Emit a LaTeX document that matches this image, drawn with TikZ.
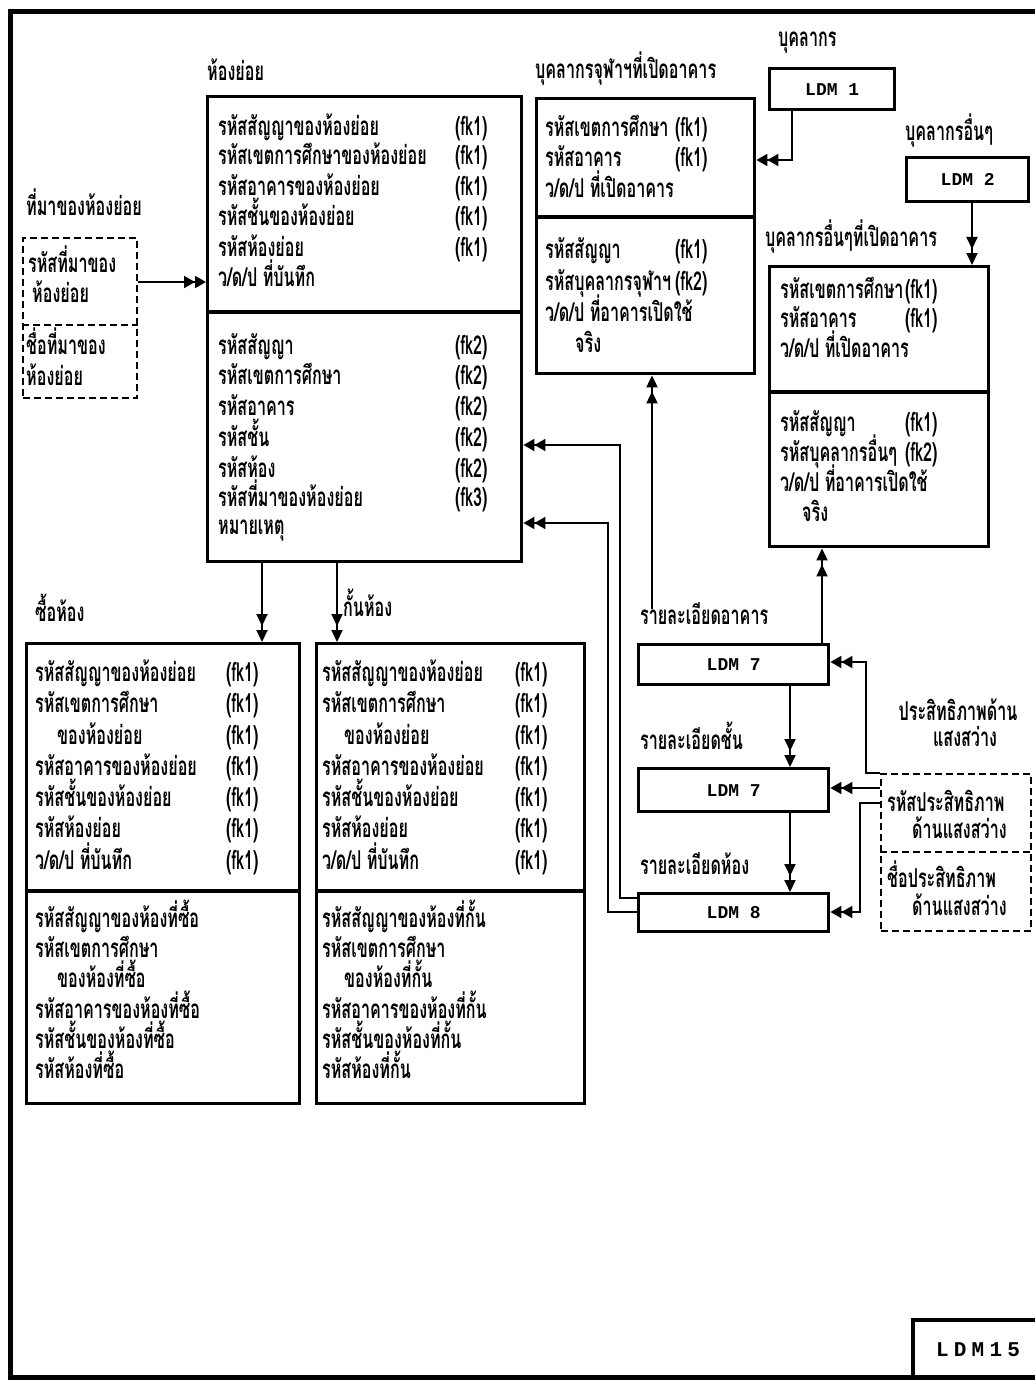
\documentclass[tikz,border=0pt]{standalone}
\usepackage{fontspec}
\newfontfamily\thaifont[Script=Thai, FakeStretch=0.62]{Loma}
\newfontfamily\ldmfont{Liberation Mono}
\newfontfamily\tagfont[LetterSpace=25]{Liberation Mono}
\usetikzlibrary{arrows.meta, calc}

\begin{document}
\begin{tikzpicture}[x=1pt, y=-1pt,
    entity/.style={draw, line width=3.4pt, inner sep=0pt, anchor=north west},
    divider/.style={line width=3.4pt},
    ldmbox/.style={draw, line width=3.4pt, inner sep=0pt, anchor=north west,
      font=\ldmfont\bfseries\fontsize{18}{20}\selectfont},
    srcbox/.style={draw, dash pattern=on 7pt off 4pt, line width=1.8pt, inner sep=0pt, anchor=north west},
    row/.style={anchor=west, inner sep=0pt, text height=15pt, text depth=6pt,
      font=\thaifont\bfseries\fontsize{26}{28}\selectfont},
    link/.style={line width=1.9pt},
    dblhead/.style={link, -{Triangle[length=11pt,width=12pt]Triangle[length=11pt,width=12pt]}},
    dblgap/.style={link, -{Triangle[length=12pt,width=11pt,sep=4pt]Triangle[length=12pt,width=11pt]}}]

  \useasboundingbox (0,0) rectangle (1035,1380);
  % outer frame and sheet tag
  \draw[line width=5pt] (10,12) rectangle (1050,1377);
  \draw[line width=3.4pt] (913,1377) |- (1050,1320);
  \node[font=\tagfont\bfseries\fontsize{21}{22}\selectfont] (ldmtag) at (978,1350) {LDM15};

  % Sub-room
  \node[row] (subttl) at (207,76) {ห้องย่อย};
  \node[entity, minimum width=314pt, minimum height=465pt] (subroom) at (206,95) {};
  \draw[divider] (subroom.west |- 0,312) -- (subroom.east |- 0,312);
  \foreach \yy/\txt [count=\i] in {131/รหัสสัญญาของห้องย่อย, 160/รหัสเขตการศึกษาของห้องย่อย,
      191/รหัสอาคารของห้องย่อย, 221/รหัสชั้นของห้องย่อย, 252/รหัสห้องย่อย, 282/{ว/ด/ป ที่บันทึก}}
    \node[row] (sub-a\i) at (218,\yy) {\txt};
  \foreach \yy [count=\i] in {131,160,191,221,252}
    \node[row] (sub-ak\i) at (455,\yy) {(fk1)};
  \foreach \yy/\txt/\fk [count=\i] in {350/รหัสสัญญา/(fk2), 380/รหัสเขตการศึกษา/(fk2),
      411/รหัสอาคาร/(fk2), 442/รหัสชั้น/(fk2), 473/รหัสห้อง/(fk2), 502/รหัสที่มาของห้องย่อย/(fk3)} {
    \node[row] (sub-b\i) at (218,\yy) {\txt};
    \node[row] (sub-bk\i) at (455,\yy) {\fk};
  }
  \node[row] (subnote) at (218,530) {หมายเหตุ};

  % Source of sub-room (external)
  \node[row] (srcttl) at (26,211) {ที่มาของห้องย่อย};
  \node[srcbox, minimum width=114pt, minimum height=160pt] (src) at (22,237) {};
  \draw[dash pattern=on 7pt off 4pt, line width=1.8pt] (src.west |- 0,325) -- (src.east |- 0,325);
  \node[row] (src-a1) at (28,268) {รหัสที่มาของ};
  \node[row] (src-a2) at (32,298) {ห้องย่อย};
  \node[row] (src-b1) at (26,350) {ชื่อที่มาของ};
  \node[row] (src-b2) at (26,381) {ห้องย่อย};

  % Staff who open the building
  \node[row] (staffttl) at (535,74) {บุคลากรจุฬาฯที่เปิดอาคาร};
  \node[entity, minimum width=218pt, minimum height=275pt] (staff) at (535,97) {};
  \draw[divider] (staff.west |- 0,217) -- (staff.east |- 0,217);
  \foreach \yy/\txt/\fk [count=\i] in {132/รหัสเขตการศึกษา/(fk1), 162/รหัสอาคาร/(fk1),
      193/{ว/ด/ป ที่เปิดอาคาร}/{}, 254/รหัสสัญญา/(fk1), 286/รหัสบุคลากรจุฬาฯ/(fk2),
      317/{ว/ด/ป ที่อาคารเปิดใช้}/{}} {
    \node[row] (staff-\i) at (545,\yy) {\txt};
    \node[row] (staff-k\i) at (675,\yy) {\fk};
  }
  \node[row] (staff-7) at (575,348) {จริง};

  % Other staff who open the building
  \node[row] (otherttl) at (765,242) {บุคลากรอื่นๆที่เปิดอาคาร};
  \node[entity, minimum width=219pt, minimum height=280pt] (other) at (768,265) {};
  \draw[divider] (other.west |- 0,392) -- (other.east |- 0,392);
  \foreach \yy/\txt/\fk [count=\i] in {294/รหัสเขตการศึกษา/(fk1), 323/รหัสอาคาร/(fk1),
      353/{ว/ด/ป ที่เปิดอาคาร}/{}, 427/รหัสสัญญา/(fk1), 457/รหัสบุคลากรอื่นๆ/(fk2),
      487/{ว/ด/ป ที่อาคารเปิดใช้}/{}} {
    \node[row] (other-\i) at (780,\yy) {\txt};
    \node[row] (other-k\i) at (905,\yy) {\fk};
  }
  \node[row] (other-7) at (802,517) {จริง};

  % Buying / partitioning rooms
  \node[row] (buyttl) at (35,617) {ซื้อห้อง};
  \node[row] (partttl) at (343,612) {กั้นห้อง};
  \node[entity, minimum width=273pt, minimum height=460pt] (buy) at (25,642) {};
  \node[entity, minimum width=268pt, minimum height=460pt] (part) at (315,642) {};
  \foreach \bx/\lx/\kx/\sfx in {buy/35/226/ซื้อ, part/322/515/กั้น} {
    \draw[divider] (\bx.west |- 0,891) -- (\bx.east |- 0,891);
    \foreach \yy/\dx/\txt [count=\i] in {677/0/รหัสสัญญาของห้องย่อย, 708/0/รหัสเขตการศึกษา,
        740/22/ของห้องย่อย, 771/0/รหัสอาคารของห้องย่อย, 802/0/รหัสชั้นของห้องย่อย,
        833/0/รหัสห้องย่อย, 865/0/{ว/ด/ป ที่บันทึก}} {
      \node[row] (\bx-a\i) at (\lx+\dx,\yy) {\txt};
      \node[row] (\bx-k\i) at (\kx,\yy) {(fk1)};
    }
    \foreach \yy/\dx/\txt [count=\i] in {923/0/รหัสสัญญาของห้องที่, 953/0/รหัสเขตการศึกษา,
        983/22/ของห้องที่, 1014/0/รหัสอาคารของห้องที่, 1044/0/รหัสชั้นของห้องที่,
        1074/0/รหัสห้องที่}
      \node[row] (\bx-b\i) at (\lx+\dx,\yy) {\txt\ifnum\i=2\else\sfx\fi};
  }

  % LDM references
  \node[row] (ldmAttl) at (778,42) {บุคลากร};
  \node[ldmbox, minimum width=125pt, minimum height=41pt] (ldmA) at (768,67) {LDM 1};
  \node[row] (ldmBttl) at (905,136) {บุคลากรอื่นๆ};
  \node[ldmbox, minimum width=122pt, minimum height=44pt] (ldmB) at (905,156) {LDM 2};
  \node[row] (bldgttl) at (640,620) {รายละเอียดอาคาร};
  \node[ldmbox, minimum width=190pt, minimum height=40pt] (ldmC) at (637,643) {LDM 7};
  \node[row] (floorttl) at (640,745) {รายละเอียดชั้น};
  \node[ldmbox, minimum width=190pt, minimum height=43pt] (ldmD) at (637,767) {LDM 7};
  \node[row] (roomttl) at (640,870) {รายละเอียดห้อง};
  \node[ldmbox, minimum width=190pt, minimum height=38pt] (ldmE) at (637,892) {LDM 8};

  % Lighting efficiency (external)
  \node[row, anchor=center] (lightttl1) at (958,716) {ประสิทธิภาพด้าน};
  \node[row, anchor=center] (lightttl2) at (965,742) {แสงสว่าง};
  \node[srcbox, minimum width=150pt, minimum height=157pt] (light) at (880,773) {};
  \draw[dash pattern=on 7pt off 4pt, line width=1.8pt] (light.west |- 0,852) -- (light.east |- 0,852);
  \node[row] (light-a1) at (887,807) {รหัสประสิทธิภาพ};
  \node[row] (light-a2) at (912,834) {ด้านแสงสว่าง};
  \node[row] (light-b1) at (887,883) {ชื่อประสิทธิภาพ};
  \node[row] (light-b2) at (912,911) {ด้านแสงสว่าง};

  % Connectors
  \draw[dblhead] (src.east |- 0,282) -- (subroom.west |- 0,282);
  \draw[dblhead] (792,0 |- ldmA.south) |- (staff.east |- 0,160);
  \draw[dblgap] (972,0 |- ldmB.south) -- (972,0 |- other.north);
  \draw[dblgap] (262,0 |- subroom.south) -- (262,0 |- buy.north);
  \draw[dblgap] (337,0 |- subroom.south) -- (337,0 |- part.north);
  \draw[dblgap] (652,0 |- bldgttl.north) -- (652,0 |- staff.south);
  \draw[dblgap] (822,0 |- ldmC.north) -- (822,0 |- other.south);
  \draw[dblgap] (790,0 |- ldmC.south) -- (790,0 |- ldmD.north);
  \draw[dblgap] (790,0 |- ldmD.south) -- (790,0 |- ldmE.north);
  \draw[dblhead] (ldmE.west |- 0,898) -| (620,445) -- (subroom.east |- 0,445);
  \draw[dblhead] (ldmE.west |- 0,912) -| (608,523) -- (subroom.east |- 0,523);
  \draw[dblhead] (light.north west) -- (866,773) |- (ldmC.east |- 0,662);
  \draw[dblhead] (light.west |- 0,788) -- (ldmD.east |- 0,788);
  \draw[dblhead] (light.west |- 0,803) -- (860,803) |- (ldmE.east |- 0,912);
\end{tikzpicture}
\end{document}
